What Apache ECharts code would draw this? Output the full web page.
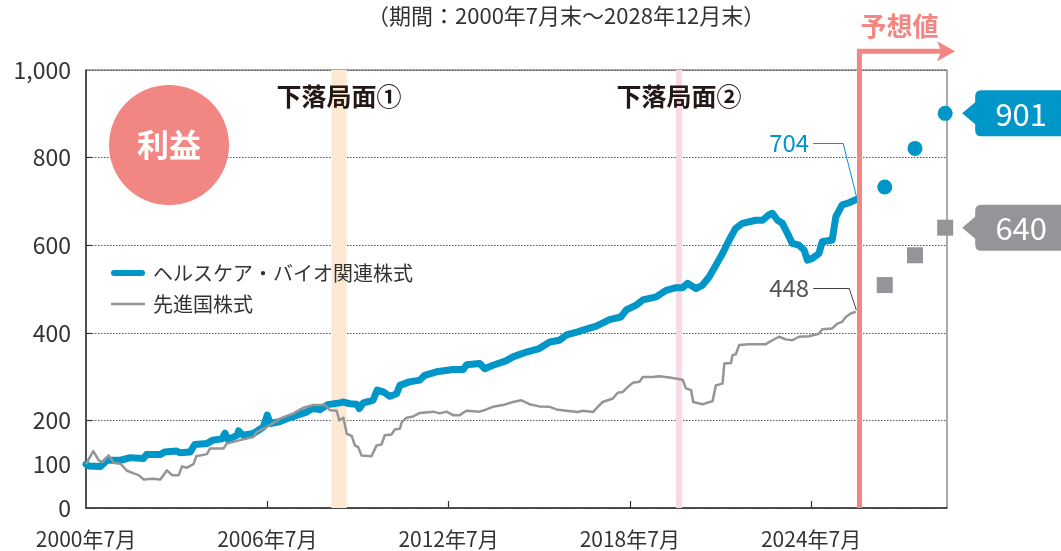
<!DOCTYPE html>
<html>
<head>
<meta charset="utf-8">
<script src="https://cdn.jsdelivr.net/npm/echarts@6/dist/echarts.min.js"></script>
<style>
  html, body { margin: 0; padding: 0; background: #fff; }
  #main { width: 1061px; height: 551px; }
</style>
</head>
<body>
<div id="main"></div>
<script>
// ---- data (decimal years, index 2000年7月末 = 100) ----
const healthYears = [2000.5,2000.6,2000.98,2001.2,2001.64,2001.97,2002.4,2002.5,2002.96,2003.1,2003.5,2003.6,2003.95,2004.1,2004.5,2004.7,2005.0,2005.1,2005.2,2005.5,2005.55,2005.7,2006.04,2006.37,2006.5,2006.6,2006.9,2007.15,2007.5,2007.8,2008.0,2008.25,2008.5,2008.9,2009.0,2009.24,2009.46,2009.55,2009.68,2010.0,2010.14,2010.34,2010.56,2010.78,2010.89,2011.2,2011.55,2011.71,2012.1,2012.65,2012.98,2013.1,2013.53,2013.7,2013.97,2014.4,2014.63,2015.08,2015.5,2015.85,2016.17,2016.4,2016.78,2016.95,2017.39,2017.83,2018.2,2018.38,2018.71,2018.93,2019.37,2019.7,2020.03,2020.25,2020.41,2020.69,2020.91,2021.13,2021.35,2021.57,2021.79,2022.0,2022.23,2022.67,2022.9,2023.1,2023.22,2023.39,2023.55,2023.72,2023.88,2024.1,2024.27,2024.38,2024.54,2024.76,2024.87,2025.2,2025.32,2025.53,2025.76,2025.98];
const healthValues = [100,96,95,109,109,115,113,122,122,128,130,126,128,145,147,155,158,171,156,166,176,166,170,185,212,193,197,204,212,219,227,225,236,240,242,238,237,227,240,246,269,265,255,261,280,288,292,303,311,316,316,327,330,318,326,336,345,356,364,379,383,395,402,406,415,430,436,452,463,475,482,497,503,503,513,501,509,528,554,581,612,638,650,657,657,669,673,657,650,627,604,600,589,566,570,581,608,612,665,692,697,704];

const worldYears = [2000.5,2000.74,2000.92,2001.04,2001.25,2001.42,2001.64,2001.86,2002.08,2002.24,2002.41,2002.69,2002.96,2003.18,2003.35,2003.57,2003.68,2003.84,2004.06,2004.15,2004.5,2004.61,2005.05,2005.16,2005.6,2006.04,2006.16,2006.49,2006.93,2007.37,2007.7,2008.03,2008.41,2008.58,2008.8,2008.88,2009.02,2009.13,2009.3,2009.4,2009.51,2009.62,2009.95,2010.12,2010.28,2010.39,2010.61,2010.72,2010.89,2010.95,2011.11,2011.33,2011.55,2011.99,2012.21,2012.43,2012.65,2012.87,2013.09,2013.53,2013.75,2013.97,2014.3,2014.63,2014.91,2015.18,2015.5,2015.85,2016.07,2016.4,2016.78,2016.95,2017.28,2017.44,2017.6,2017.94,2018.1,2018.27,2018.43,2018.6,2018.82,2018.93,2019.26,2019.48,2019.81,2020.25,2020.36,2020.53,2020.6,2020.91,2021.24,2021.35,2021.57,2021.63,2021.85,2021.9,2022.01,2022.12,2022.45,2022.89,2023.0,2023.22,2023.44,2023.66,2023.88,2024.1,2024.43,2024.76,2024.87,2025.2,2025.37,2025.53,2025.65,2025.81,2025.98];
const worldValues = [100,130,109,105,120,103,101,85,79,75,65,67,65,86,75,75,95,92,100,118,123,136,136,147,155,162,174,185,204,216,229,235,235,223,222,200,206,170,164,143,139,120,118,143,145,166,168,179,181,196,206,209,217,220,216,220,212,212,222,220,225,231,235,242,246,237,232,231,225,222,219,222,219,231,242,250,263,265,276,286,288,299,299,301,298,293,273,269,242,237,244,280,284,330,331,349,351,372,374,374,374,383,391,385,383,391,392,398,408,410,421,425,436,444,448];

// 予想値 (2026年12月末・2027年12月末・2028年12月末)
const forecastYears = [2026.94, 2027.94, 2028.94];
const healthForecast = [733, 821, 901];
const worldForecast = [509, 577, 640];

const xLabelYears = [2000, 2006, 2012, 2018, 2024];
const yLabelValues = [0, 100, 200, 400, 600, 800, 1000];
const yTickValues = [100, 200, 400, 600, 800];

const dropPeriods = [
  { name: '下落局面①', from: 2008.62, to: 2009.13, color: '#fde9d3' },
  { name: '下落局面②', from: 2020.03, to: 2020.23, color: '#fad9e6' }
];
const forecastStart = 2026.1;

const BLUE = '#0096c8';
const GRAY = '#939598';
const SALMON = '#f28682';
const FONT = '"Noto Sans CJK JP", "Noto Sans", sans-serif';

const pair = (xs, ys) => xs.map((x, i) => [x, ys[i]]);
const healthLast = healthValues[healthValues.length - 1];
const worldLast = worldValues[worldValues.length - 1];

// タグ型の吹き出し
const tagPath = 'path://M19,0 H104 Q110,0 110,6 V40 Q110,46 104,46 H19 Q13,46 13,40 V34 L0,23 L13,12 V6 Q13,0 19,0 Z';

function tagMarkPoint(color, x, y) {
  return {
    silent: true,
    symbol: tagPath,
    symbolSize: [110, 46],
    symbolOffset: [72, 0],
    itemStyle: { color: color, opacity: 1 },
    label: {
      show: true, position: 'inside', offset: [4, 1],
      color: '#fff', fontSize: 31, fontFamily: FONT,
      formatter: p => String(p.value)
    },
    data: [{ coord: [x, y], value: y }]
  };
}

const chart = echarts.init(document.getElementById('main'));

const option = {
  animation: false,
  textStyle: { fontFamily: FONT },
  title: {
    text: '（期間：2000年7月末～2028年12月末）',
    left: 362,
    top: 0,
    textStyle: { fontSize: 22, fontWeight: 'normal', color: '#333', fontFamily: FONT }
  },
  legend: {
    orient: 'vertical',
    left: 106,
    top: 258,
    itemWidth: 34,
    itemHeight: 12,
    itemGap: 11,
    textStyle: { fontSize: 20, color: '#333', padding: [0, 0, 0, 3], fontFamily: FONT },
    data: [
      { name: 'ヘルスケア・バイオ関連株式', icon: 'path://M3,0 H31 A3,3 0 0 1 31,6 H3 A3,3 0 0 1 3,0 Z' },
      { name: '先進国株式', icon: 'path://M0,0 H34 V2.5 H0 Z' }
    ]
  },
  grid: {
    left: 86, top: 70, width: 861, height: 438,
    show: true, borderColor: '#555', borderWidth: 1
  },
  xAxis: {
    type: 'value',
    min: 2000.5,
    max: 2029,
    axisLine: { lineStyle: { color: '#333', width: 1.5 } },
    axisTick: {
      inside: true, length: 7,
      customValues: xLabelYears.slice(1).map(y => y + 0.5),
      lineStyle: { color: '#333', width: 1.2 }
    },
    axisLabel: {
      customValues: xLabelYears.map(y => y + 0.5),
      formatter: v => Math.floor(v) + '年7月',
      fontSize: 21, color: '#333', margin: 21, fontFamily: FONT
    },
    splitLine: { show: false }
  },
  yAxis: [
    {
      type: 'value', min: 0, max: 1000, interval: 200,
      axisLine: { show: true, lineStyle: { color: '#333', width: 1.5 } },
      axisTick: {
        show: true, inside: true, length: 6,
        customValues: yTickValues,
        lineStyle: { color: '#333', width: 1.2 }
      },
      axisLabel: {
        customValues: yLabelValues,
        formatter: v => v.toLocaleString('en-US'),
        fontSize: 23, color: '#333', margin: 15, fontFamily: FONT
      },
      splitLine: { show: false }
    },
    {
      type: 'value', min: 0, max: 1000, interval: 200, position: 'left',
      axisLine: { show: false }, axisTick: { show: false }, axisLabel: { show: false },
      splitLine: { show: true, lineStyle: { color: '#555', type: [1.5, 1.5], width: 1 } }
    }
  ],
  series: [
    {
      name: 'ヘルスケア・バイオ関連株式',
      type: 'line',
      data: pair(healthYears, healthValues),
      symbol: 'none',
      clip: false,
      lineStyle: { color: BLUE, width: 7, cap: 'round', join: 'round' },
      itemStyle: { color: BLUE },
      markArea: {
        silent: true,
        label: {
          show: true, position: 'insideTop', distance: 14,
          fontSize: 25, fontWeight: 'bold', color: '#231815', fontFamily: FONT
        },
        data: dropPeriods.map(p => [
          { name: p.name, xAxis: p.from, itemStyle: { color: p.color } },
          { xAxis: p.to }
        ])
      },
      markLine: {
        silent: true,
        symbol: ['none', 'none'],
        lineStyle: { color: BLUE, width: 1, type: 'solid' },
        label: { show: false },
        data: [
          [
            { coord: [2024.57, 833], label: { show: true, position: 'start', distance: 4, formatter: String(healthLast), color: BLUE, fontSize: 24, fontFamily: FONT } },
            { coord: [2025.56, 833] }
          ],
          [{ coord: [2025.56, 833] }, { coord: [2026.0, 712] }],
          { xAxis: forecastStart, lineStyle: { color: SALMON, width: 5 } }
        ]
      }
    },
    {
      name: '先進国株式',
      type: 'line',
      data: pair(worldYears, worldValues),
      symbol: 'none',
      clip: false,
      lineStyle: { color: GRAY, width: 2.5, join: 'round' },
      itemStyle: { color: GRAY },
      markLine: {
        silent: true,
        symbol: ['none', 'none'],
        lineStyle: { color: '#444', width: 1, type: 'solid' },
        label: { show: false },
        data: [
          [
            { coord: [2024.57, 502], label: { show: true, position: 'start', distance: 4, formatter: String(worldLast), color: '#555', fontSize: 24, fontFamily: FONT } },
            { coord: [2025.76, 502] }
          ],
          [{ coord: [2025.76, 502] }, { coord: [2026.0, 452] }]
        ]
      }
    },
    {
      name: 'health-forecast',
      type: 'scatter',
      data: pair(forecastYears, healthForecast),
      symbol: 'circle',
      symbolSize: 15,
      clip: false,
      itemStyle: { color: BLUE, opacity: 1 },
      markPoint: tagMarkPoint(BLUE, forecastYears[2], healthForecast[2])
    },
    {
      name: 'world-forecast',
      type: 'scatter',
      data: pair(forecastYears, worldForecast),
      symbol: 'rect',
      symbolSize: 16,
      clip: false,
      itemStyle: { color: GRAY, opacity: 1 },
      markPoint: tagMarkPoint(GRAY, forecastYears[2], worldForecast[2])
    }
  ],
  graphic: [
    { id: 'badge', type: 'circle', shape: { cx: 169, cy: 145, r: 60 }, style: { fill: SALMON }, z: 10 },
    {
      id: 'badgeText', type: 'text', x: 169, y: 145, z: 11,
      style: { text: '利益', fill: '#fff', font: 'bold 32px ' + FONT, align: 'center', verticalAlign: 'middle' }
    }
  ]
};

chart.setOption(option);

// 予想値の矢印（グリッド上端より上に伸びる部分）
const arrowTopValue = 1043;
const pBase = chart.convertToPixel({ gridIndex: 0 }, [forecastStart, 1000]);
const pTop = chart.convertToPixel({ gridIndex: 0 }, [forecastStart, arrowTopValue]);
const pEnd = chart.convertToPixel({ gridIndex: 0 }, [2029.27, arrowTopValue]);
chart.setOption({
  graphic: [
    {
      id: 'arrowLine', type: 'polyline', z: 12,
      shape: { points: [[pTop[0], pBase[1] + 2], [pTop[0], pTop[1]], [pEnd[0] - 14, pTop[1]]] },
      style: { stroke: SALMON, lineWidth: 5, fill: null, lineJoin: 'miter' }
    },
    {
      id: 'arrowHead', type: 'polygon', z: 12,
      shape: { points: [[pEnd[0] - 18, pTop[1] - 10], [pEnd[0], pTop[1]], [pEnd[0] - 18, pTop[1] + 10], [pEnd[0] - 14, pTop[1]]] },
      style: { fill: SALMON }
    },
    {
      id: 'forecastText', type: 'text', x: pTop[0] + 1, y: pTop[1] - 25, z: 12,
      style: { text: '予想値', fill: SALMON, font: 'bold 26px ' + FONT, align: 'left', verticalAlign: 'middle' }
    }
  ]
});
</script>
</body>
</html>
